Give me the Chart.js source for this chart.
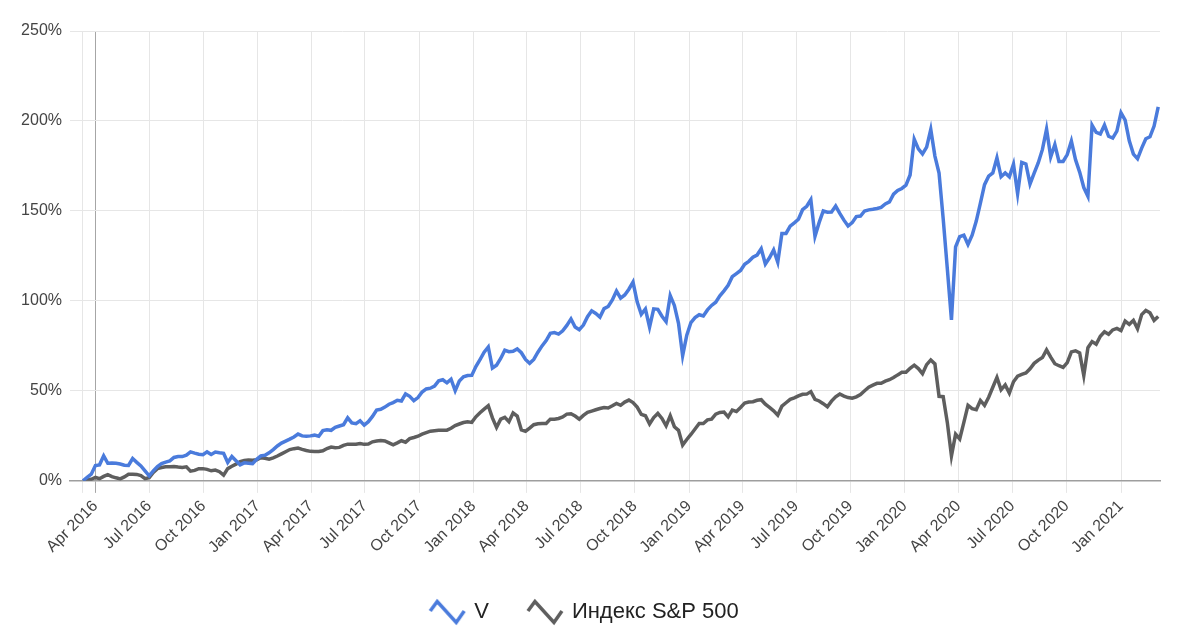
<!DOCTYPE html>
<html>
<head>
<meta charset="utf-8">
<script src="https://cdn.jsdelivr.net/npm/chart.js@4.4.1/dist/chart.umd.min.js"></script>
<style>
  html, body { margin: 0; padding: 0; background: #fff; }
  #wrap { width: 1200px; height: 643px; }
</style>
</head>
<body>
<div id="wrap"><canvas id="chart" width="1200" height="643"></canvas></div>
<script>
// weekly closes, first week and axis range
const startDate = "2016-03-11";
const axisStart = "2016-02-18";
const axisEnd = "2021-03-08";

// quarter ticks on the time axis
const tickDates = ["2016-04-01", "2016-07-01", "2016-10-01", "2017-01-01", "2017-04-01", "2017-07-01",
  "2017-10-01", "2018-01-01", "2018-04-01", "2018-07-01", "2018-10-01", "2019-01-01", "2019-04-01",
  "2019-07-01", "2019-10-01", "2020-01-01", "2020-04-01", "2020-07-01", "2020-10-01", "2021-01-01"];
const tickLabels = ["Apr 2016", "Jul 2016", "Oct 2016", "Jan 2017", "Apr 2017", "Jul 2017",
  "Oct 2017", "Jan 2018", "Apr 2018", "Jul 2018", "Oct 2018", "Jan 2019", "Apr 2019",
  "Jul 2019", "Oct 2019", "Jan 2020", "Apr 2020", "Jul 2020", "Oct 2020", "Jan 2021"];

const seriesNames = ["V", "Индекс S&P 500"];

// доходность, % (неделя за неделей)
const vValues = [
  0, 2.0, 3.7, 8.5, 8.9, 13.9, 9.8, 9.9, 9.8, 9.4,
  8.7, 8.6, 12.4, 10.3, 8.3, 5.5, 2.8, 5.6, 8.0, 9.6,
  10.4, 11.1, 13.0, 13.5, 13.5, 14.3, 16.1, 15.4, 14.8, 14.5,
  16.1, 14.7, 16.0, 15.6, 15.3, 10.2, 13.5, 11.2, 8.9, 10.0,
  9.8, 9.6, 12.0, 13.9, 14.2, 15.6, 17.4, 19.4, 21.0, 22.1,
  23.2, 24.4, 26.0, 25.0, 24.8, 25.0, 25.4, 24.8, 27.9, 28.4,
  28.1, 29.7, 30.5, 31.2, 35.0, 32.2, 31.8, 33.4, 31.0, 32.9,
  35.8, 39.4, 39.8, 41.0, 42.6, 43.5, 44.8, 44.4, 48.3, 47.0,
  44.6, 46.3, 49.4, 51.1, 51.5, 52.7, 55.6, 56.2, 54.5, 56.5,
  50.1, 55.5, 57.8, 58.5, 58.6, 63.5, 67.4, 71.5, 74.4, 62.7,
  64.3, 68.0, 72.6, 71.8, 72.0, 73.3, 71.2, 67.5, 65.3, 67.5,
  71.5, 75.0, 78.0, 82.0, 82.4, 81.6, 83.4, 86.4, 90.0, 85.5,
  84.0, 86.6, 91.2, 94.5, 93.0, 91.0, 95.7, 96.9, 100.5, 105.5,
  101.5, 103.3, 106.5, 110.5, 99.5, 92.5, 95.5, 85.4, 95.6, 95.3,
  91.5, 88.5, 103.0, 97.5, 87.6, 69.6, 81.0, 88.0, 90.7, 92.3,
  91.6, 95.0, 97.5, 99.3, 102.8, 105.6, 108.7, 113.5, 115.2, 116.9,
  120.4, 122.0, 124.3, 125.5, 129.0, 120.5, 124.0, 128.3, 121.5, 137.5,
  137.5, 141.6, 143.4, 145.4, 150.7, 152.6, 156.3, 135.9, 143.5, 150.0,
  149.3, 149.4, 152.7, 148.6, 144.9, 141.6, 143.5, 146.9, 147.2, 150.0,
  150.6, 150.9, 151.4, 152.0, 153.9, 155.0, 159.3, 161.4, 162.5, 164.3,
  170.0, 189.9, 184.5, 181.7, 185.5, 195.3, 180.5, 171.0, 145.7, 118.0,
  89.5, 130.0, 135.7, 136.5, 131.4, 136.5, 144.4, 154.4, 164.6, 169.3,
  171.1, 179.5, 169.0, 171.1, 169.0, 176.0, 159.6, 177.0, 176.1, 165.0,
  171.0, 176.8, 184.2, 195.5, 180.0, 186.9, 177.5, 177.5, 181.3, 188.8,
  178.5, 171.6, 163.0, 158.1, 197.7, 193.7, 192.8, 197.7, 191.5, 190.5,
  194.4, 204.5, 200.5, 189.0, 181.6, 179.0, 184.9, 190.1, 191.2, 197.2,
  207.9
];
const spValues = [
  0, 0.5, 0.9, 1.9, 1.2, 2.5, 3.5, 2.4, 1.7, 1.1,
  2.2, 3.7, 3.7, 3.6, 2.9, 1.2, 1.8, 4.7, 6.8, 7.4,
  7.8, 7.9, 8.0, 7.7, 7.5, 7.8, 5.4, 5.8, 6.8, 6.8,
  6.4, 5.6, 6.0, 5.1, 3.2, 6.8, 8.1, 9.3, 10.7, 11.3,
  11.6, 11.4, 11.7, 12.9, 12.6, 12.1, 12.8, 13.8, 15.0, 16.2,
  17.4, 17.9, 18.2, 17.5, 16.9, 16.4, 16.3, 16.3, 16.7, 18.0,
  18.8, 18.4, 18.6, 19.7, 20.4, 20.4, 20.4, 20.8, 20.3, 20.5,
  21.7, 22.1, 22.4, 22.2, 21.1, 20.0, 21.1, 22.3, 21.5, 23.5,
  24.1, 24.8, 26.0, 26.8, 27.6, 27.9, 28.1, 28.2, 28.2, 29.2,
  30.7, 31.6, 32.4, 32.8, 32.5, 35.6, 37.9, 39.9, 41.8, 35.0,
  29.7, 34.3, 35.3, 32.9, 37.7, 36.0, 28.3, 27.6, 29.3, 31.2,
  31.7, 31.9, 31.9, 34.3, 34.3, 34.7, 35.5, 37.1, 37.3, 36.0,
  34.3, 36.4, 38.1, 38.8, 39.5, 40.2, 40.8, 40.5, 41.7, 43.0,
  42.0, 43.8, 44.9, 43.5, 41.0, 37.0, 36.2, 31.6, 35.2, 37.5,
  34.7, 30.6, 36.2, 30.1, 28.1, 19.9, 23.0, 25.8, 28.8, 31.9,
  31.9, 33.9, 34.3, 37.1, 38.0, 38.2, 35.6, 39.3, 38.6, 40.8,
  43.2, 43.8, 44.0, 44.8, 45.1, 42.6, 40.8, 38.9, 36.5, 41.5,
  43.4, 45.3, 46.1, 47.2, 48.1, 48.2, 49.6, 45.3, 44.4, 42.9,
  41.2, 44.3, 46.7, 48.3, 47.1, 46.3, 45.9, 46.7, 48.0, 50.1,
  52.1, 53.2, 54.2, 54.2, 55.4, 56.2, 57.4, 58.9, 60.3, 60.3,
  62.6, 64.3, 62.4, 59.6, 64.6, 67.2, 65.0, 47.0, 46.8, 32.5,
  13.9, 26.0, 23.3, 32.5, 42.0, 40.1, 39.5, 44.7, 42.0, 46.5,
  52.0, 57.5, 50.6, 53.3, 48.8, 55.1, 58.2, 59.2, 60.0, 62.3,
  65.3, 67.1, 68.5, 72.8, 68.8, 65.1, 64.0, 63.1, 65.7, 71.7,
  72.3, 71.1, 58.5, 74.0, 77.4, 75.9, 80.4, 82.9, 81.5, 83.9,
  84.7, 83.5, 88.8, 87.0, 89.2, 84.6, 92.4, 94.7, 93.4, 89.2,
  91.3
];

const colors = ["#4a7bdc", "#5e5e5e"];
const DAY = 86400000;
const toTime = s => Date.parse(s + "T00:00:00Z");

// недельные даты
const weekTimes = vValues.map((v, i) => toTime(startDate) + i * 7 * DAY);
const tickTimes = [toTime(startDate)].concat(tickDates.map(toTime));
const aprilTick = toTime(tickDates[0]);

// иконка-зигзаг для легенды
function zigzag(color) {
    const c = document.createElement("canvas");
    c.width = 38;
    c.height = 28;
    const g = c.getContext("2d");
    g.strokeStyle = color;
    g.lineWidth = 3.5;
    g.lineJoin = "miter";
    g.beginPath();
    g.moveTo(2, 13);
    g.lineTo(9, 3.5);
    g.lineTo(28, 24.5);
    g.lineTo(36, 13);
    g.stroke();
    return c;
}

const makeSeries = (vals) => vals.map((v, i) => ({ x: weekTimes[i], y: v }));

const ctx = document.getElementById("chart").getContext("2d");
new Chart(ctx, {
    type: "line",
    data: {
        datasets: [
            {
                label: seriesNames[0],
                data: makeSeries(vValues),
                borderColor: colors[0],
                backgroundColor: colors[0],
                borderWidth: 3.5,
                pointRadius: 0,
                pointStyle: zigzag(colors[0]),
                tension: 0
            },
            {
                label: seriesNames[1],
                data: makeSeries(spValues),
                borderColor: colors[1],
                backgroundColor: colors[1],
                borderWidth: 3.5,
                pointRadius: 0,
                pointStyle: zigzag(colors[1]),
                tension: 0
            }
        ]
    },
    options: {
        responsive: false,
        animation: false,
        layout: { padding: { top: 31, left: 10, right: 40, bottom: 10 } },
        plugins: {
            legend: {
                position: "bottom",
                labels: {
                    usePointStyle: true,
                    pointStyleWidth: 32,
                    padding: 40,
                    color: "#222",
                    font: { family: "'Liberation Sans', Arial, sans-serif", size: 22 }
                }
            },
            tooltip: { enabled: false }
        },
        scales: {
            x: {
                type: "linear",
                min: toTime(axisStart),
                max: toTime(axisEnd),
                afterBuildTicks: (scale) => {
                    scale.ticks = tickTimes.map(t => ({ value: t }));
                },
                ticks: {
                    autoSkip: false,
                    minRotation: 45,
                    maxRotation: 45,
                    padding: 4,
                    color: "#444",
                    font: { family: "'Liberation Sans', Arial, sans-serif", size: 16 },
                    callback: (value, index) => index === 0 ? "" : tickLabels[index - 1]
                },
                grid: {
                    color: (c) => c.tick && c.tick.value === aprilTick ? "#a6a6a6" : "#e6e6e6",
                    tickLength: 12
                },
                border: { color: "#9e9e9e", width: 1.5 }
            },
            y: {
                min: 0,
                max: 250,
                ticks: {
                    stepSize: 50,
                    padding: 8,
                    color: "#444",
                    font: { family: "'Liberation Sans', Arial, sans-serif", size: 16 },
                    callback: (value) => value + "%"
                },
                grid: {
                    color: (c) => c.tick && c.tick.value === 0 ? "#9e9e9e" : "#e6e6e6",
                    drawTicks: false
                },
                border: { display: false },
                afterFit: (scale) => { scale.width = 60; }
            }
        }
    }
});
</script>
</body>
</html>
